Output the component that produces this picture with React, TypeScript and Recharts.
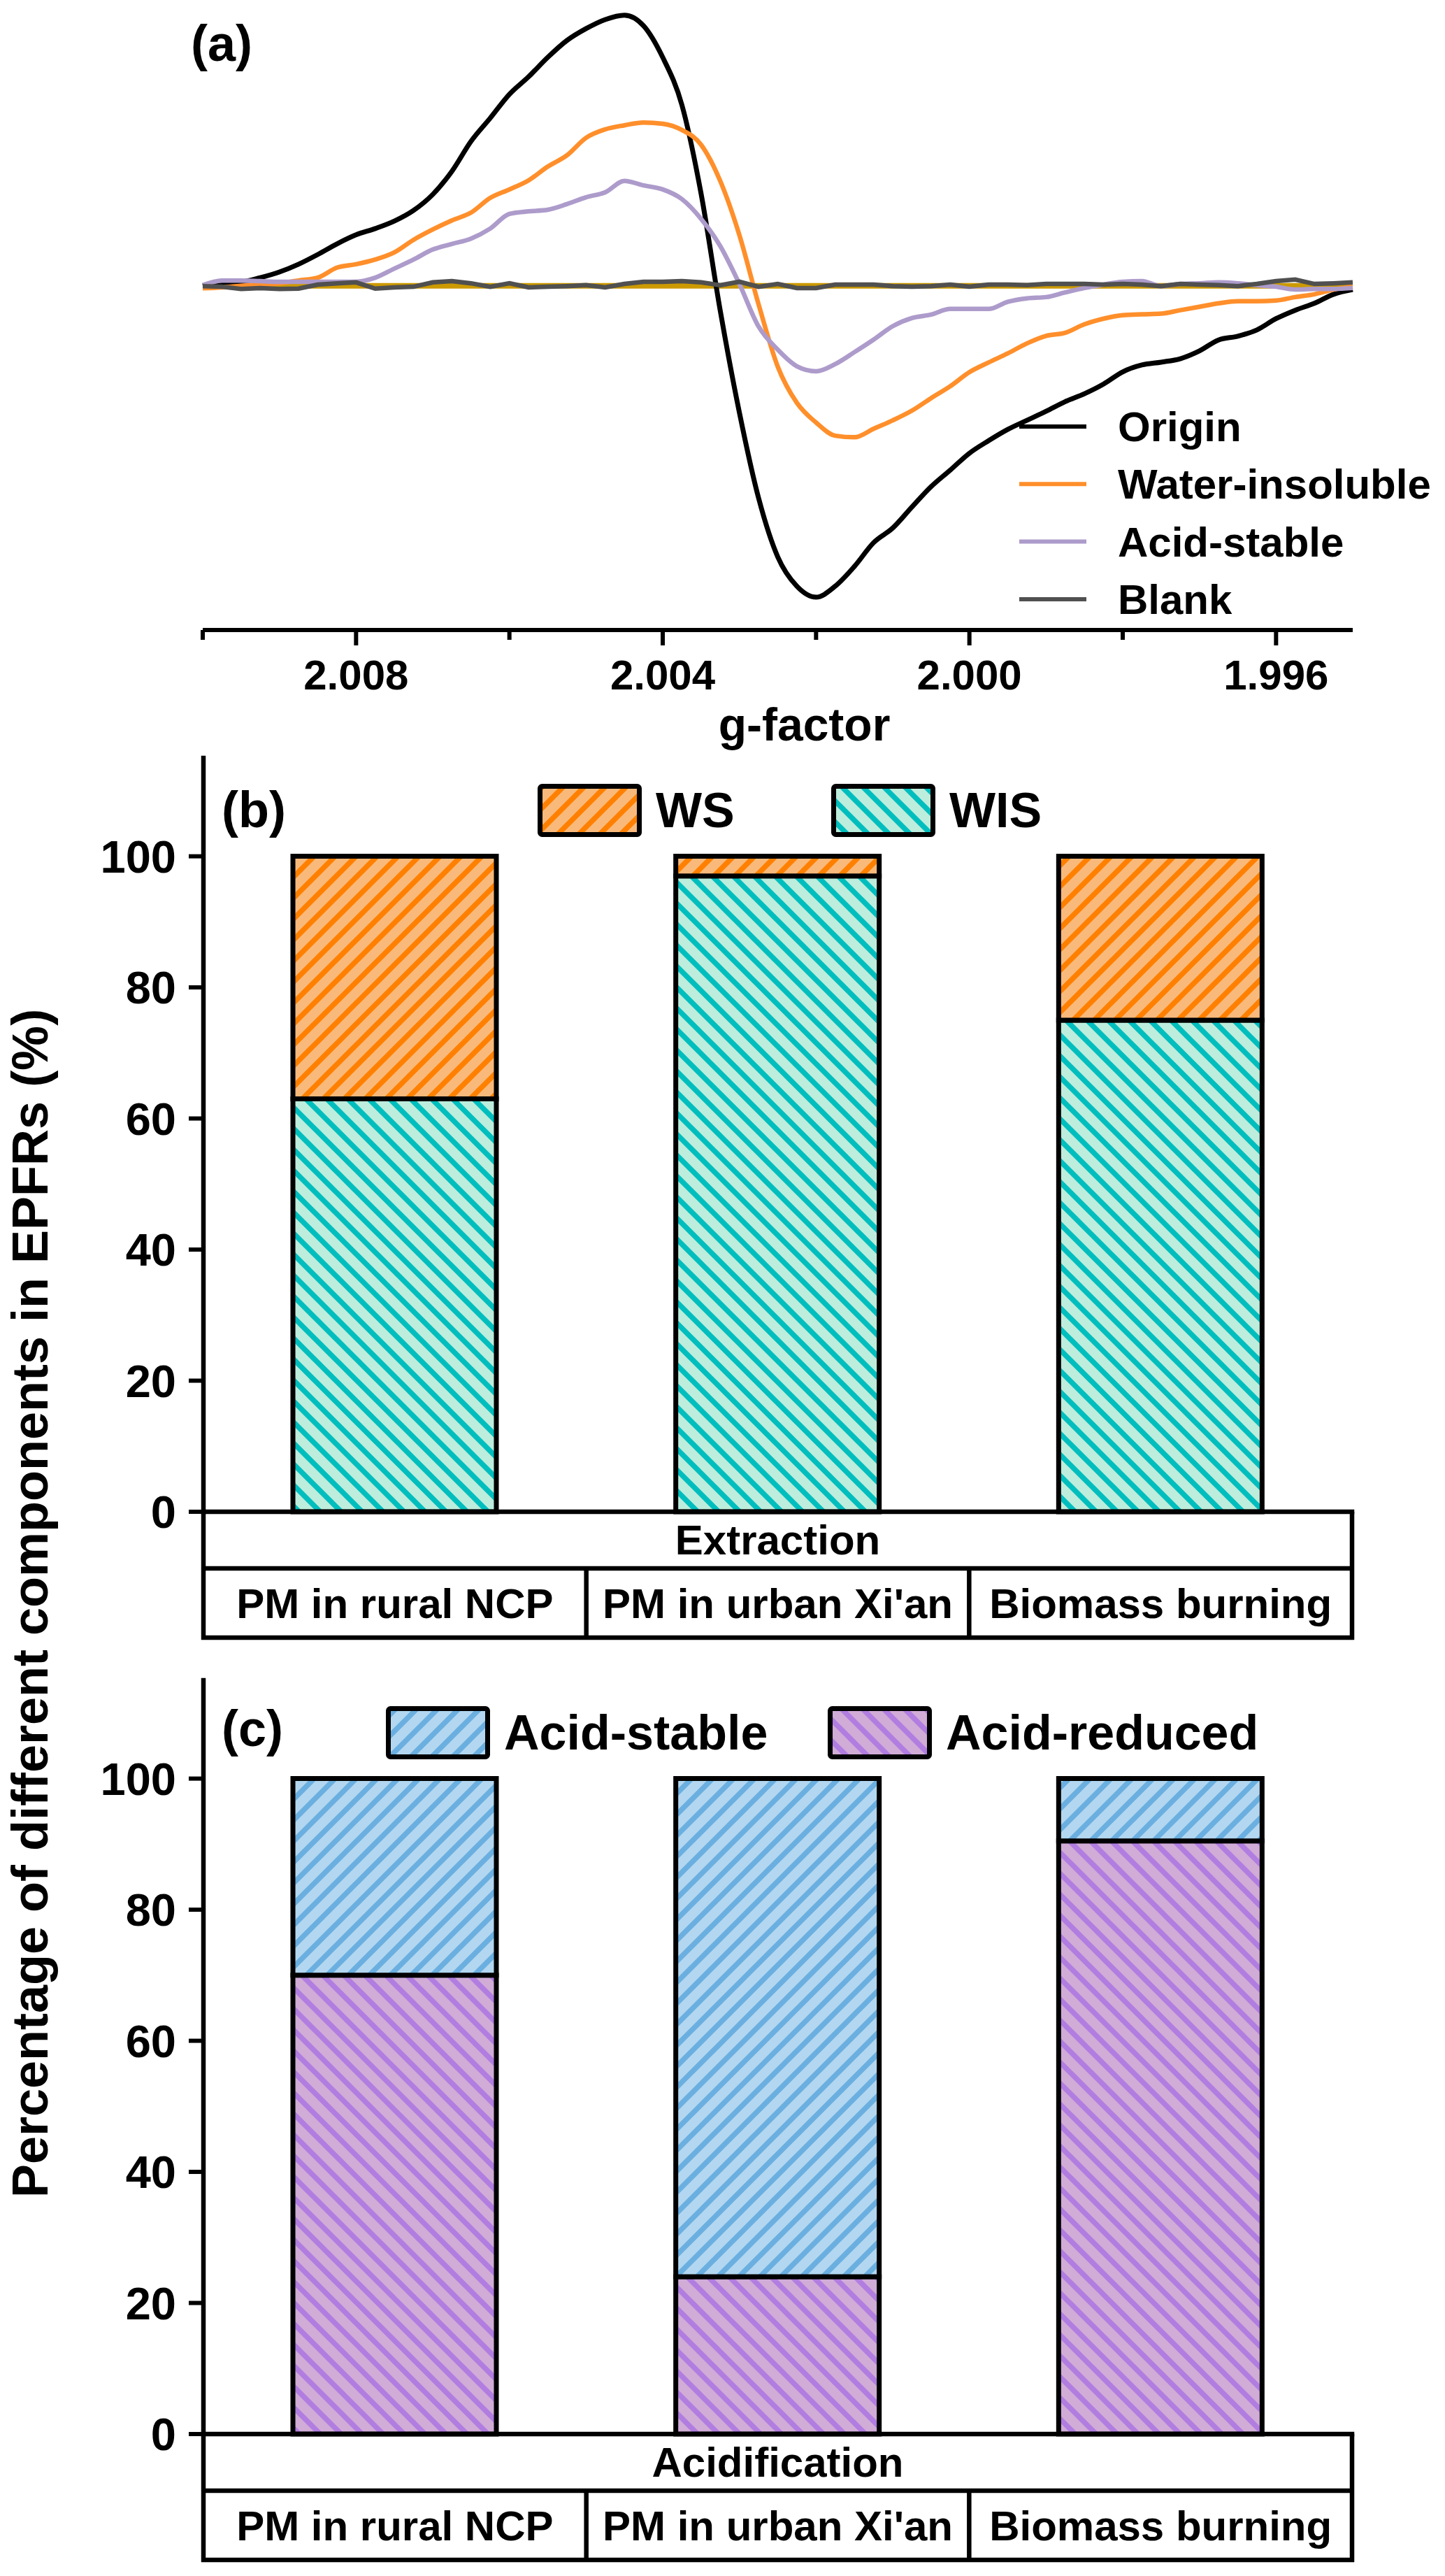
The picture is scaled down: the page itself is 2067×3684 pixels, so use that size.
import React from 'react';
import { LineChart, Line, XAxis, YAxis, ReferenceLine, Legend, BarChart, Bar } from 'recharts';

const FONT = '"Liberation Sans", Arial, Helvetica, sans-serif';

// (a) EPR spectra (arbitrary intensity units)
const gFactor = [
  2.01, 2.00975, 2.0095, 2.00925, 2.009, 2.00875, 2.0085, 2.00825, 2.008, 2.00775,
  2.0075, 2.00725, 2.007, 2.00675, 2.0065, 2.00625, 2.006, 2.00575, 2.0055, 2.00525,
  2.005, 2.00475, 2.0045, 2.00425, 2.004, 2.00375, 2.0035, 2.00325, 2.003, 2.00275,
  2.0025, 2.00225, 2.002, 2.00175, 2.0015, 2.00125, 2.001, 2.00075, 2.0005, 2.00025,
  2.0, 1.99975, 1.9995, 1.99925, 1.999, 1.99875, 1.9985, 1.99825, 1.998, 1.99775,
  1.9975, 1.99725, 1.997, 1.99675, 1.9965, 1.99625, 1.996, 1.99575, 1.9955, 1.99525,
  1.995,
];
const originSignal = [
  0, 1.1, 1.3, 2.6, 4.4, 6.9, 10.0, 13.4, 16.3, 18.3,
  20.7, 24.1, 29.2, 36.6, 46.2, 53.6, 61.2, 66.8, 73.0, 78.4,
  82.2, 85.1, 86.5, 83.1, 73.0, 57.8, 29.5, -7.9, -40.5, -67.8,
  -86.6, -96.0, -99.5, -96.0, -89.7, -82.1, -77.4, -70.7, -64.2, -58.9,
  -53.5, -49.5, -45.9, -43.0, -40.1, -37.0, -34.5, -31.4, -27.5, -25.3,
  -24.4, -23.3, -20.8, -17.3, -16.1, -14.1, -10.5, -7.8, -5.6, -2.7,
  -1.2,
];
const waterInsolubleSignal = [
  -0.8, -0.5, 0, 0.4, 0.8, 1.7, 2.6, 5.8, 6.9, 8.4,
  10.7, 14.7, 18.0, 20.9, 23.4, 28.1, 30.8, 33.7, 38.1, 41.7,
  47.3, 50.0, 51.3, 52.2, 51.8, 49.8, 45.1, 33.5, 16.2, -5.9,
  -25.8, -37.4, -43.7, -47.9, -48.4, -45.7, -43.0, -39.9, -35.9, -32.1,
  -27.6, -24.5, -21.6, -18.4, -16.0, -15.0, -12.3, -10.5, -9.4, -9.1,
  -8.9, -7.8, -6.7, -5.6, -4.9, -4.9, -4.7, -3.6, -2.7, -1.2,
  -0.3,
];
const acidStableSignal = [
  0.2, 1.7, 1.7, 1.5, 1.3, 1.3, 1.3, 1.3, 1.3, 2.6,
  5.5, 8.4, 11.6, 13.4, 15.1, 18.3, 23.0, 23.8, 24.3, 26.1,
  28.3, 29.9, 33.5, 32.1, 30.8, 27.7, 21.4, 12.7, 0.6, -13.0,
  -20.4, -25.7, -27.3, -25.0, -21.2, -17.2, -12.9, -10.3, -9.2, -7.4,
  -7.4, -7.4, -5.1, -4.0, -3.6, -2.1, -0.7, 0.4, 1.3, 1.5,
  -0.1, 0.6, 0.8, 1.1, 0.8, 0.2, -0.3, -1.2, -1.0, -1.0,
  -0.7,
];
const blankSignal = [
  -0.1, -0.3, -1.0, -0.7, -1.0, -0.9, 0.4, 0.8, 1.1, -0.9,
  -0.5, -0.3, 1.1, 1.5, 0.8, -0.3, 0.8, -0.5, -0.3, -0.1,
  0.2, -0.5, 0.6, 1.3, 1.3, 1.5, 1.1, 0.2, 1.3, -0.3,
  0.6, -0.7, -0.7, 0.4, 0.4, 0.4, -0.1, -0.3, -0.1, 0.4,
  -0.3, 0.4, 0.4, 0.2, 0.6, 0.6, 0.6, 0.4, 0.6, 0.4,
  -0.1, 0.6, 0.4, 0.2, -0.1, 0.6, 1.5, 2.0, 0.6, 0.8,
  1.1,
];
const gTicks = [2.01, 2.008, 2.006, 2.004, 2.002, 2.0, 1.998, 1.996];
const gTickLabels = ['', '2.008', '', '2.004', '', '2.000', '', '1.996'];

// (b) and (c) shares
const sites = ['PM in rural NCP', "PM in urban Xi'an", 'Biomass burning'];
const wsPercent = [37, 3, 25];
const wisPercent = [63, 97, 75];
const acidStablePercent = [30, 76, 9.5];
const acidReducedPercent = [70, 24, 90.5];
const percentTicks = [0, 20, 40, 60, 80, 100];

const spectrumSeries = [
  { key: 'origin', name: 'Origin', color: '#000000', width: 7, type: 'monotone' },
  { key: 'waterInsoluble', name: 'Water-insoluble', color: '#ff8f2b', width: 6.5, type: 'monotone' },
  { key: 'acidStable', name: 'Acid-stable', color: '#ad9bcb', width: 6.5, type: 'monotone' },
  { key: 'blank', name: 'Blank', color: '#505050', width: 6.5, type: 'linear' },
];

const txt = { fontFamily: FONT, fontWeight: 700, fill: '#000' } as const;

function Hatch({ id, bg, fg, dir }: { id: string; bg: string; fg: string; dir: 'up' | 'down' }) {
  const s = 30;
  const d =
    dir === 'up'
      ? `M${-s / 4},${s / 4} L${s / 4},${-s / 4} M0,${s} L${s},0 M${(s * 3) / 4},${(s * 5) / 4} L${(s * 5) / 4},${(s * 3) / 4}`
      : `M${-s / 4},${(s * 3) / 4} L${s / 4},${(s * 5) / 4} M0,0 L${s},${s} M${(s * 3) / 4},${-s / 4} L${(s * 5) / 4},${s / 4}`;
  return (
    <pattern id={id} patternUnits="userSpaceOnUse" width={s} height={s}>
      <rect width={s} height={s} fill={bg} />
      <path d={d} stroke={fg} strokeWidth={7.5} />
    </pattern>
  );
}

function GTick(props: any) {
  const { x, y, payload } = props;
  const i = gTicks.findIndex((t) => Math.abs(t - payload.value) < 1e-9);
  const label = i >= 0 ? gTickLabels[i] : '';
  return (
    <g>
      <line x1={x} x2={x} y1={y} y2={y + (label ? 22 : 14)} stroke="#000" strokeWidth={6} />
      {label && (
        <text x={x} y={y + 85} textAnchor="middle" fontSize={60} {...txt}>
          {label}
        </text>
      )}
    </g>
  );
}

function GAxisTitle(props: any) {
  const { x, y, width } = props.viewBox || {};
  return (
    <text x={x + width / 2 + 38} y={y + 158} textAnchor="middle" fontSize={66} {...txt}>
      g-factor
    </text>
  );
}

function SpectrumLegend(props: any) {
  const payload = props.payload || [];
  return (
    <svg width={620} height={340} style={{ display: 'block' }}>
      {spectrumSeries.map((s, i) => {
        const entry = payload.find((p: any) => p.value === s.name);
        const cy = 50 + i * 82.3;
        return (
          <g key={s.name}>
            <line x1={18} x2={114} y1={cy} y2={cy} stroke={entry?.color ?? s.color} strokeWidth={6} />
            <text x={159} y={cy + 21} fontSize={60} {...txt}>
              {s.name}
            </text>
          </g>
        );
      })}
    </svg>
  );
}

function SiteTick(props: any) {
  const { x, y, payload } = props;
  const half = payload?.offset || 273.8;
  const i = sites.indexOf(payload.value);
  return (
    <g>
      {i > 0 && <line x1={x - half} x2={x - half} y1={y + 81} y2={y + 180} stroke="#000" strokeWidth={6.5} />}
      <text x={x} y={y + 152} textAnchor="middle" fontSize={60} {...txt}>
        {payload.value}
      </text>
    </g>
  );
}

function TableFrame(props: any) {
  const { x, y, width } = props.viewBox || {};
  return (
    <g>
      <text x={x + width / 2} y={y + 61} textAnchor="middle" fontSize={60} {...txt}>
        {props.text}
      </text>
      <line x1={x} x2={x + width} y1={y + 81} y2={y + 81} stroke="#000" strokeWidth={6.5} />
      <line x1={x - 3} x2={x + width + 3} y1={y + 180} y2={y + 180} stroke="#000" strokeWidth={6.5} />
      <line x1={x} x2={x} y1={y} y2={y + 183} stroke="#000" strokeWidth={6.5} />
      <line x1={x + width} x2={x + width} y1={y} y2={y + 183} stroke="#000" strokeWidth={6.5} />
    </g>
  );
}

function HatchLegend(props: any) {
  const { payload = [], order, lefts, fills } = props;
  return (
    <svg width={2067} height={80} style={{ display: 'block' }}>
      {order.map((name: string, i: number) => {
        const entry = payload.find((p: any) => p.value === name);
        const x = lefts[i];
        return (
          <g key={name}>
            <rect x={x + 3.5} y={3.5} width={142} height={69} rx={3} fill={entry?.color ?? fills[i]} stroke="#000" strokeWidth={7} />
            <text x={x + 169} y={62} fontSize={70} {...txt}>
              {name}
            </text>
          </g>
        );
      })}
    </svg>
  );
}

function StackPanel(props: {
  top: number;
  data: any[];
  lower: { key: string; name: string; fill: string };
  upper: { key: string; name: string; fill: string };
  group: string;
  legendLefts: number[];
  defs: React.ReactNode;
}) {
  const { top, data, lower, upper, group, legendLefts, defs } = props;
  const axisLine = { stroke: '#000', strokeWidth: 6.5, strokeLinecap: 'square' as const };
  return (
    <div style={{ position: 'absolute', left: 0, top }}>
      <BarChart width={2067} height={1279} data={data} margin={{ top: 10, right: 133, bottom: 10, left: 0 }}>
        <defs>{defs}</defs>
        <XAxis
          dataKey="site"
          height={181}
          axisLine={axisLine}
          tickLine={false}
          tickSize={0}
          tickMargin={0}
          interval={0}
          tick={(p: any) => <SiteTick {...p} />}
          label={<TableFrame text={group} />}
        />
        <XAxis xAxisId="top" dataKey="site" orientation="top" height={0} tick={false} tickLine={false} axisLine={axisLine} />
        <YAxis
          width={291}
          domain={[0, 115]}
          ticks={percentTicks}
          interval={0}
          tickSize={21}
          tickMargin={18}
          axisLine={axisLine}
          tickLine={{ stroke: '#000', strokeWidth: 6 }}
          tick={{ fontSize: 65, fontWeight: 700, fill: '#000', fontFamily: FONT }}
        />
        <YAxis yAxisId="right" orientation="right" width={0} domain={[0, 115]} tick={false} tickLine={false} axisLine={axisLine} />
        <Legend
          layout="horizontal"
          verticalAlign="middle"
          align="center"
          wrapperStyle={{ left: 0, top: 47, width: 2067, height: 80 }}
          content={(p: any) => (
            <HatchLegend payload={p.payload} order={[upper.name, lower.name]} lefts={legendLefts} fills={[upper.fill, lower.fill]} />
          )}
        />
        <Bar dataKey={lower.key} name={lower.name} stackId="s" fill={lower.fill} stroke="#000" strokeWidth={7} barSize={291} isAnimationActive={false} />
        <Bar dataKey={upper.key} name={upper.name} stackId="s" fill={upper.fill} stroke="#000" strokeWidth={7} barSize={291} isAnimationActive={false} />
      </BarChart>
    </div>
  );
}

export default function App() {
  const spectrum = gFactor.map((g, i) => ({
    g,
    origin: originSignal[i],
    waterInsoluble: waterInsolubleSignal[i],
    acidStable: acidStableSignal[i],
    blank: blankSignal[i],
  }));
  const extraction = sites.map((site, i) => ({ site, wis: wisPercent[i], ws: wsPercent[i] }));
  const acidification = sites.map((site, i) => ({ site, reduced: acidReducedPercent[i], stable: acidStablePercent[i] }));

  return (
    <div style={{ position: 'absolute', left: 0, top: 0, width: 2067, height: 3684, background: '#fff', fontFamily: FONT }}>
      <div style={{ position: 'absolute', left: 0, top: 0 }}>
        <LineChart width={2067} height={1090} data={spectrum} margin={{ top: 6, right: 132, bottom: 0, left: 290 }}>
          <XAxis
            dataKey="g"
            type="number"
            domain={[1.995, 2.01]}
            reversed
            ticks={gTicks}
            interval={0}
            height={189}
            tickLine={false}
            tickSize={0}
            tickMargin={0}
            axisLine={{ stroke: '#000', strokeWidth: 6 }}
            tick={(p: any) => <GTick {...p} />}
            label={<GAxisTitle />}
          />
          <YAxis hide type="number" domain={[-110, 90]} />
          <ReferenceLine y={0} stroke="#cc9a00" strokeWidth={8} zIndex={350} />
          <Legend
            layout="horizontal"
            verticalAlign="middle"
            align="center"
            wrapperStyle={{ left: 1440, top: 560, width: 620, height: 340 }}
            content={(p: any) => <SpectrumLegend payload={p.payload} />}
          />
          {spectrumSeries.map((s) => (
            <Line
              key={s.key}
              dataKey={s.key}
              name={s.name}
              type={s.type as any}
              stroke={s.color}
              strokeWidth={s.width}
              dot={false}
              activeDot={false}
              isAnimationActive={false}
            />
          ))}
        </LineChart>
      </div>

      <StackPanel
        top={1074}
        data={extraction}
        lower={{ key: 'wis', name: 'WIS', fill: 'url(#wisHatch)' }}
        upper={{ key: 'ws', name: 'WS', fill: 'url(#wsHatch)' }}
        group="Extraction"
        legendLefts={[769, 1189]}
        defs={[
          <Hatch key="ws" id="wsHatch" bg="#f9b97a" fg="#ff8000" dir="up" />,
          <Hatch key="wis" id="wisHatch" bg="#bdeddc" fg="#00bebe" dir="down" />,
        ]}
      />

      <StackPanel
        top={2393}
        data={acidification}
        lower={{ key: 'reduced', name: 'Acid-reduced', fill: 'url(#reducedHatch)' }}
        upper={{ key: 'stable', name: 'Acid-stable', fill: 'url(#stableHatch)' }}
        group="Acidification"
        legendLefts={[552, 1184]}
        defs={[
          <Hatch key="st" id="stableHatch" bg="#b3d7f0" fg="#6aafe0" dir="up" />,
          <Hatch key="rd" id="reducedHatch" bg="#d0acd7" fg="#b17de0" dir="down" />,
        ]}
      />

      <svg width={2067} height={3684} style={{ position: 'absolute', left: 0, top: 0, pointerEvents: 'none' }}>
        <text x={273} y={87} fontSize={72} {...txt}>(a)</text>
        <text x={317} y={1183} fontSize={72} {...txt}>(b)</text>
        <text x={317} y={2497} fontSize={72} {...txt}>(c)</text>
        <text x={68} y={2293} transform="rotate(-90 68 2293)" textAnchor="middle" fontSize={72} {...txt}>
          Percentage of different components in EPFRs (%)
        </text>
      </svg>
    </div>
  );
}
